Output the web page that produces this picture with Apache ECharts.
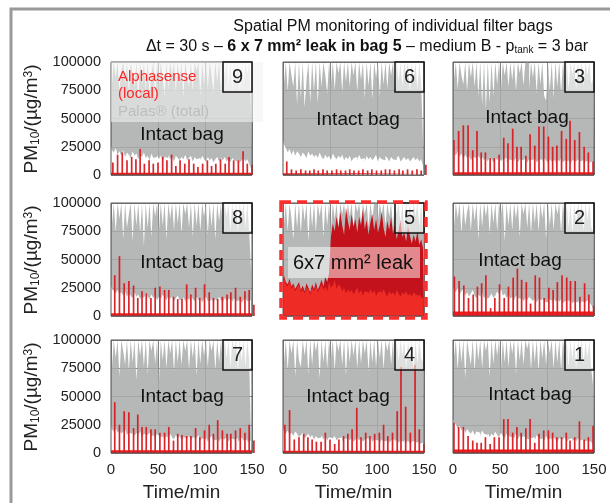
<!DOCTYPE html>
<html>
<head>
<meta charset="utf-8">
<script src="https://cdn.jsdelivr.net/npm/echarts@6/dist/echarts.min.js"></script>
<style>
  html, body { margin: 0; padding: 0; background: #fff; }
  #chart { width: 610px; height: 503px; }
</style>
</head>
<body>
<div id="chart"></div>
<script>
// all PM10 values below are in 1000 µg/m³
const timeStep = 2; // min between samples of the Palas envelope arrays

// Palas (total) upper envelope, one value every 2 min (0..150)
const palasTop9 = [
  100,80,100,86,100,74,93,100,80,100,
  72,100,88,78,100,66,100,80,100,75,
  100,70,90,100,64,100,78,100,86,70,
  100,76,100,88,100,73,100,80,100,68,
  100,86,78,100,74,100,92,100,70,100,
  80,100,76,100,88,73,100,82,100,70,
  100,88,100,78,100,75,100,84,100,72,
  100,80,100,90,100,55];
const palasTop6 = [
  100,80,100,74,100,88,78,100,62,100,
  68,100,60,84,100,64,100,74,100,63,
  100,78,100,88,72,100,80,100,75,100,
  90,100,73,100,82,100,78,100,88,100,
  74,100,84,100,68,100,79,100,67,100,
  86,100,70,100,80,100,76,100,88,100,
  74,100,82,100,78,100,90,100,72,100,
  84,100,76,100,80,28];
const palasTop3 = [
  100,84,100,76,100,88,80,100,74,100,
  86,100,78,100,70,100,62,100,58,100,
  64,100,70,100,80,100,75,100,88,100,
  78,100,84,100,74,100,90,100,79,100,
  100,76,100,86,100,72,100,80,100,70,
  66,100,74,100,68,100,78,100,72,100,
  84,100,76,100,88,100,75,100,82,100,
  78,100,88,100,80,85];
const palasTop8 = [
  100,80,100,74,100,86,100,68,100,78,
  90,100,66,100,80,100,73,100,62,100,
  78,100,70,100,88,100,75,100,80,100,
  68,100,86,100,76,100,82,100,73,100,
  90,100,78,100,70,100,80,100,75,100,
  88,100,72,100,79,100,68,100,84,100,
  76,100,88,100,74,100,80,100,73,100,
  86,100,78,100,75,40];
const palasTop5 = [
  100,80,100,75,100,86,68,100,78,100,
  73,100,84,100,66,100,79,100,74,100,
  88,100,70,100,80,100,76,100,86,100,
  78,100,90,100,80,100,88,100,78,100,
  92,100,82,100,90,100,79,100,86,100,
  100,84,100,90,100,80,100,88,100,78,
  100,90,100,82,100,76,100,86,100,80,
  100,88,100,79,100,75];
const palasTop2 = [
  100,78,100,86,100,73,100,80,92,100,
  75,100,84,100,68,100,79,100,88,100,
  72,100,82,100,75,100,90,100,66,100,
  80,100,76,100,86,100,70,100,90,100,
  78,100,73,100,82,100,75,100,86,100,
  68,100,80,100,76,100,90,100,73,100,
  84,100,78,100,72,100,80,100,90,100,
  75,100,84,100,79,75];
const palasTop7 = [
  100,75,100,84,100,68,100,90,78,100,
  73,100,80,100,64,100,86,100,76,100,
  70,100,90,100,79,100,62,100,82,100,
  75,100,88,100,72,100,80,100,78,100,
  90,100,74,100,84,100,69,100,79,100,
  86,100,76,100,90,100,73,100,80,100,
  78,100,84,100,75,100,90,100,72,100,
  80,100,76,100,82,10];
const palasTop4 = [
  100,79,100,73,100,88,100,68,100,82,
  76,100,86,100,70,100,78,100,90,100,
  66,100,80,100,75,100,84,100,73,100,
  90,100,78,100,69,100,80,100,86,100,
  75,100,79,100,88,100,72,100,80,100,
  76,100,84,100,74,100,90,100,78,100,
  70,100,80,100,86,100,75,100,82,100,
  73,100,79,100,84,80];
const palasTop1 = [
  100,84,100,74,100,80,100,66,100,88,
  78,100,72,100,82,100,75,100,90,100,
  68,100,79,100,86,100,73,100,80,100,
  76,100,88,100,70,100,82,100,78,100,
  92,100,74,100,80,100,72,100,84,100,
  78,100,88,100,75,100,80,100,73,100,
  86,100,76,100,82,100,74,100,90,100,
  79,100,84,100,75,60];

// Palas lower envelope (white area under the grey)
const palasLow9 = [
  26,22,20,24,18,21,17,22,16,20,
  18,15,21,17,19,14,18,16,20,15,
  17,13,19,15,16,18,14,17,13,16,
  15,18,14,16,12,17,15,13,16,14,
  18,13,15,17,12,16,14,15,13,17,
  14,12,16,13,15,11,14,16,12,15,
  13,16,12,14,11,15,13,12,14,11,
  13,15,12,14,10,6];
const palasLow6 = [
  30,27,24,20,23,18,22,17,21,19,
  16,20,18,15,21,17,19,16,18,15,
  20,16,14,18,15,17,13,19,16,14,
  17,15,18,13,16,14,17,12,15,16,
  13,18,14,15,12,17,14,16,13,15,
  18,12,16,14,13,17,15,12,16,14,
  13,15,17,12,14,16,13,15,12,14,
  16,13,15,12,14,8];
const palasLow3 = [
  25,20,17,21,16,19,14,18,15,17,
  13,16,15,12,17,14,16,13,15,12,
  16,14,11,15,13,16,12,14,15,11,
  14,13,16,12,15,11,14,13,12,15,
  11,14,13,12,16,11,13,14,12,15,
  13,11,14,12,13,10,14,12,15,11,
  13,12,14,10,13,12,11,14,12,13,
  10,12,13,11,12,8];
const palasLow8 = [
  27,24,22,20,23,19,21,18,22,17,
  20,18,16,21,17,19,15,18,16,20,
  17,15,19,16,18,14,17,15,19,16,
  14,18,15,17,13,16,18,14,15,17,
  13,16,14,18,15,13,17,14,16,12,
  15,17,13,14,16,12,15,13,17,14,
  12,16,13,15,14,12,16,13,14,15,
  12,14,16,13,14,9];
const palasLow2 = [
  26,23,21,25,19,22,24,18,21,17,
  20,23,18,16,19,17,21,16,18,15,
  17,20,16,18,22,19,24,18,20,16,
  19,15,17,14,18,16,15,17,13,16,
  14,17,15,13,16,12,15,14,16,13,
  12,15,14,11,16,13,14,12,15,11,
  13,14,12,15,11,13,12,14,10,13,
  12,11,14,12,10,7];
const palasLow7 = [
  24,21,19,22,18,20,17,19,21,16,
  18,17,20,15,18,16,19,14,17,16,
  15,18,14,16,13,17,15,14,16,12,
  15,13,17,14,12,16,13,15,11,14,
  13,12,15,11,14,13,12,16,11,13,
  12,14,10,13,15,11,12,14,10,13,
  12,11,14,10,13,12,11,13,10,12,
  14,11,12,10,11,5];
const palasLow4 = [
  22,19,17,20,16,18,15,19,17,14,
  16,18,13,15,17,14,16,12,15,13,
  14,16,12,15,11,14,13,12,15,11,
  13,14,10,13,12,14,11,13,10,12,
  14,11,13,10,12,13,11,14,10,12,
  11,13,9,12,10,11,13,9,11,12,
  10,12,9,11,10,12,9,11,8,10,
  11,9,10,8,9,6];
const palasLow1 = [
  30,28,25,22,24,20,23,18,21,19,
  17,20,16,19,18,15,20,17,16,18,
  14,17,15,19,16,14,18,15,13,17,
  15,14,16,13,17,12,15,14,16,13,
  12,15,13,14,11,16,13,12,14,11,
  15,12,13,11,14,12,10,13,12,11,
  14,10,12,13,11,12,10,13,11,12,
  10,11,12,10,11,7];

// Alphasense (local) peaks at each cleaning pulse
const pulseTimes = [1, 6, 11, 16, 21, 25.5, 30, 34.5, 39.5, 44, 49, 54, 58.5, 63.5, 68, 72.5,
  77.5, 82, 87, 91.5, 96.5, 101.5, 106, 110.5, 115.5, 120.5, 124.5, 129.5, 134.5, 139.5, 144, 149];
const pulseShift = { 9: 1, 6: 3, 3: 0, 8: 3, 2: 0.5, 7: 3, 4: 1, 1: 0 };
const alphPeaks9 = [11,18,20,13,16,14,23,10,13,10,11,16,13,18,8,13,10,14,10,7,10,13,8,10,14,10,16,13,13,21,10,9];
const alphPeaks6 = [12,5,4,5,4,4,5,4,5,4,4,5,4,4,5,4,4,5,4,5,4,4,5,5,4,5,4,5,4,5,4,9];
const alphPeaks3 = [31,39,44,44,22,39,20,20,15,15,18,33,28,41,25,25,17,36,26,43,43,34,25,26,39,32,48,31,38,25,20,12];
const alphPeaks8 = [36,53,29,31,27,16,22,20,16,25,26,23,23,17,15,15,28,19,25,16,28,21,16,15,17,19,21,25,17,22,23,10];
const alphPeaks2 = [35,31,27,16,19,26,29,36,7,16,28,16,26,34,42,32,30,11,36,34,16,25,23,30,36,34,31,31,17,29,19,9];
const alphPeaks7 = [45,25,37,36,22,34,23,23,21,21,18,18,23,11,17,16,15,15,22,14,20,25,17,29,20,17,17,20,22,18,25,11];
const alphPeaks4 = [25,38,12,14,17,14,12,10,10,18,12,8,12,15,17,21,40,14,18,15,17,18,25,15,18,37,76,41,18,78,21,8];
const alphPeaks1 = [27,23,23,15,11,9,9,14,8,14,14,30,30,18,23,18,22,30,9,17,20,20,18,14,14,18,11,14,28,12,14,24];
const alphBaseline = { 9: 2, 6: 1.5, 3: 2.5, 8: 2.5, 2: 4, 7: 2.5, 4: 2, 1: 3 };

// bag 5 (leak): Alphasense drawn as filled areas, every 2 min
const alphLow5 = [
  30,34,28,26,31,24,27,22,25,28,
  21,24,20,26,23,19,25,22,27,21,
  24,28,23,26,22,30,25,27,32,24,
  28,26,22,25,20,24,21,23,19,22,
  25,20,23,18,22,21,19,24,20,23,
  18,21,22,19,24,20,17,22,19,21,
  18,23,20,17,21,19,22,18,20,17,
  21,19,18,20,17,15];
const alphHigh5 = [
  32,36,30,28,33,26,29,24,27,30,
  23,27,22,29,25,21,28,24,30,23,
  27,32,26,35,30,38,70,82,75,88,
  78,92,80,72,96,84,76,90,79,86,
  74,88,80,94,77,85,72,83,90,76,
  86,74,81,92,78,70,84,76,88,73,
  80,68,76,85,70,74,66,79,71,64,
  72,66,75,63,68,60];

const layout = [[9, 6, 3], [8, 5, 2], [7, 4, 1]];
const intactPos = { 9: [182, 135], 6: [358, 120], 3: [527, 118], 8: [182, 263], 2: [520, 261],
  7: [182, 397], 4: [348, 397], 1: [530, 395] };

const palasTop = { 9: palasTop9, 6: palasTop6, 3: palasTop3, 8: palasTop8, 5: palasTop5, 2: palasTop2, 7: palasTop7, 4: palasTop4, 1: palasTop1 };
const palasLow = { 9: palasLow9, 6: palasLow6, 3: palasLow3, 8: palasLow8, 2: palasLow2, 7: palasLow7, 4: palasLow4, 1: palasLow1 };
const alphPeaks = { 9: alphPeaks9, 6: alphPeaks6, 3: alphPeaks3, 8: alphPeaks8, 2: alphPeaks2, 7: alphPeaks7, 4: alphPeaks4, 1: alphPeaks1 };

const FONT = '"Liberation Sans", Arial, sans-serif';
const colX = [111, 283, 453];
const rowY = [62, 203, 340];
const W = 141, H = 113;

// each sample holds its value over its own 2-min slot (square steps, like the dense original trace)
const env = arr => arr.flatMap((v, i) => {
  const t = i * timeStep;
  return [[Math.max(0, t - timeStep / 2), v * 1000], [Math.min(150, t + timeStep / 2), v * 1000]];
});

const chart = echarts.init(document.getElementById('chart'));
const grid = [], xAxis = [], yAxis = [], series = [], graphic = [];

layout.forEach((row, r) => {
  row.forEach((bag, c) => {
    const i = grid.length;
    grid.push({ left: colX[c], top: rowY[r], width: W, height: H });
    xAxis.push({
      gridIndex: i, type: 'value', min: 0, max: 150, interval: 50,
      axisLine: { show: false }, axisTick: { show: false },
      axisLabel: { show: r === 2, fontSize: 15, color: '#222', margin: 9, fontFamily: FONT },
      splitLine: { show: true, lineStyle: { color: '#858585', width: 1 } },
      name: r === 2 ? 'Time/min' : '', nameLocation: 'middle', nameGap: 30,
      nameTextStyle: { fontSize: 19, color: '#222', fontFamily: FONT }
    });
    yAxis.push({
      gridIndex: i, type: 'value', min: 0, max: 100000, interval: 25000,
      axisLine: { show: false }, axisTick: { show: false },
      axisLabel: { show: c === 0, fontSize: 14.5, color: '#222', margin: 10, fontFamily: FONT,
        formatter: v => String(v) },
      splitLine: { show: true, lineStyle: { color: '#858585', width: 1 } }
    });

    const area = (data, color, opacity, z) => ({
      type: 'line', xAxisIndex: i, yAxisIndex: i, data, symbol: 'none',
      lineStyle: { width: 0, opacity: 0 }, areaStyle: { color, opacity }, z, silent: true
    });

    series.push(area(env(palasTop[bag]), '#a9acac', 0.85, 2));
    if (bag === 5) {
      series.push(area(env(alphHigh5), '#c3121b', 1, 3));
      series.push(area(env(alphLow5), '#ee2b25', 1, 4));
    } else {
      series.push(area(env(palasLow[bag]), '#ffffff', 1, 3));
      const b = alphBaseline[bag] * 1000;
      series.push({
        type: 'line', xAxisIndex: i, yAxisIndex: i, data: [[0, b], [150, b]], symbol: 'none',
        lineStyle: { width: 0, opacity: 0 }, areaStyle: { color: '#f01c1c', opacity: 1 }, z: 4, silent: true
      });
      series.push({
        type: 'bar', xAxisIndex: i, yAxisIndex: i, barWidth: 1.7, z: 5, silent: true,
        itemStyle: { color: '#d81a20', opacity: 0.95 },
        data: alphPeaks[bag].map((v, k) => [pulseTimes[k] + pulseShift[bag], v * 1000])
      });
    }

    // plot frame
    graphic.push({ type: 'rect', z: 50, shape: { x: colX[c], y: rowY[r], width: W, height: H },
      style: { fill: 'none', stroke: '#555', lineWidth: 1 } });
    // bag number box
    graphic.push({ type: 'rect', z: 60, shape: { x: colX[c] + W - 29, y: rowY[r], width: 29, height: 30 },
      style: { fill: 'rgba(255,255,255,0.55)', stroke: '#111', lineWidth: 1.5 } });
    graphic.push({ type: 'text', z: 61, x: colX[c] + W - 14.5, y: rowY[r] + 15,
      style: { text: String(bag), font: '20px ' + FONT, fill: '#222', align: 'center', verticalAlign: 'middle',
        textAlign: 'center', textVerticalAlign: 'middle' } });
    if (bag !== 5) {
      const p = intactPos[bag];
      graphic.push({ type: 'text', z: 61, x: p[0], y: p[1],
        style: { text: 'Intact bag', font: '19px ' + FONT, fill: '#111', align: 'center', verticalAlign: 'middle',
          textAlign: 'center', textVerticalAlign: 'middle' } });
    }
  });
  // row label
  graphic.push({ type: 'text', z: 61, x: 32, y: rowY[r] + 57, rotation: Math.PI / 2,
    style: {
      text: '{a|PM}{s|10}{a|/(µg/m}{p|3}{a|)}', align: 'center', verticalAlign: 'middle',
      textAlign: 'center', textVerticalAlign: 'middle', fill: '#222',
      rich: {
        a: { fontSize: 19, fontFamily: FONT, fill: '#222', color: '#222' },
        s: { fontSize: 12, fontFamily: FONT, fill: '#222', color: '#222', verticalAlign: 'bottom' },
        p: { fontSize: 12, fontFamily: FONT, fill: '#222', color: '#222', verticalAlign: 'top' }
      }
    } });
});

// outer frame
graphic.push({ type: 'rect', z: 1, shape: { x: 11, y: 9, width: 640, height: 540 },
  style: { fill: 'none', stroke: '#9a9a9a', lineWidth: 3 } });

// title
graphic.push({ type: 'text', z: 61, x: 393, y: 27,
  style: { text: 'Spatial PM monitoring of individual filter bags', font: '16px ' + FONT, fill: '#111',
    align: 'center', verticalAlign: 'middle', textAlign: 'center', textVerticalAlign: 'middle' } });
graphic.push({ type: 'text', z: 61, x: 367, y: 47,
  style: {
    text: '{n|Δt = 30 s – }{b|6 x 7 mm² leak in bag 5}{n| – medium B - p}{s|tank}{n| = 3 bar}',
    align: 'center', verticalAlign: 'middle', textAlign: 'center', textVerticalAlign: 'middle', fill: '#111',
    rich: {
      n: { fontSize: 16, fontFamily: FONT, fill: '#111', color: '#111' },
      b: { fontSize: 16, fontFamily: FONT, fontWeight: 'bold', fill: '#111', color: '#111' },
      s: { fontSize: 10, fontFamily: FONT, fill: '#111', color: '#111', verticalAlign: 'bottom' }
    }
  } });

// legend inside bag 9
graphic.push({ type: 'rect', z: 55, shape: { x: 111, y: 62, width: 152, height: 60 },
  style: { fill: 'rgba(242,242,242,0.6)' } });
[['Alphasense', 77, '#ff2626'], ['(local)', 94, '#ff2626'], ['Palas® (total)', 112, '#bdbdbd']].forEach(t => {
  graphic.push({ type: 'text', z: 61, x: 118, y: t[1],
    style: { text: t[0], font: '15px ' + FONT, fill: t[2], align: 'left', verticalAlign: 'middle',
      textAlign: 'left', textVerticalAlign: 'middle' } });
});

// leak label and dashed highlight for bag 5
graphic.push({ type: 'rect', z: 55, shape: { x: 288, y: 247, width: 132, height: 31 },
  style: { fill: 'rgba(255,255,255,0.5)' } });
graphic.push({ type: 'text', z: 61, x: 353, y: 263,
  style: { text: '6x7 mm² leak', font: '20px ' + FONT, fill: '#111', align: 'center', verticalAlign: 'middle',
    textAlign: 'center', textVerticalAlign: 'middle' } });
graphic.push({ type: 'rect', z: 70, shape: { x: 281, y: 202, width: 145, height: 116 },
  style: { fill: 'none', stroke: '#ff2d2d', lineWidth: 3.5, lineDash: [10, 6] } });

chart.setOption({
  animation: false,
  textStyle: { fontFamily: FONT },
  grid, xAxis, yAxis, series, graphic
});
</script>
</body>
</html>
